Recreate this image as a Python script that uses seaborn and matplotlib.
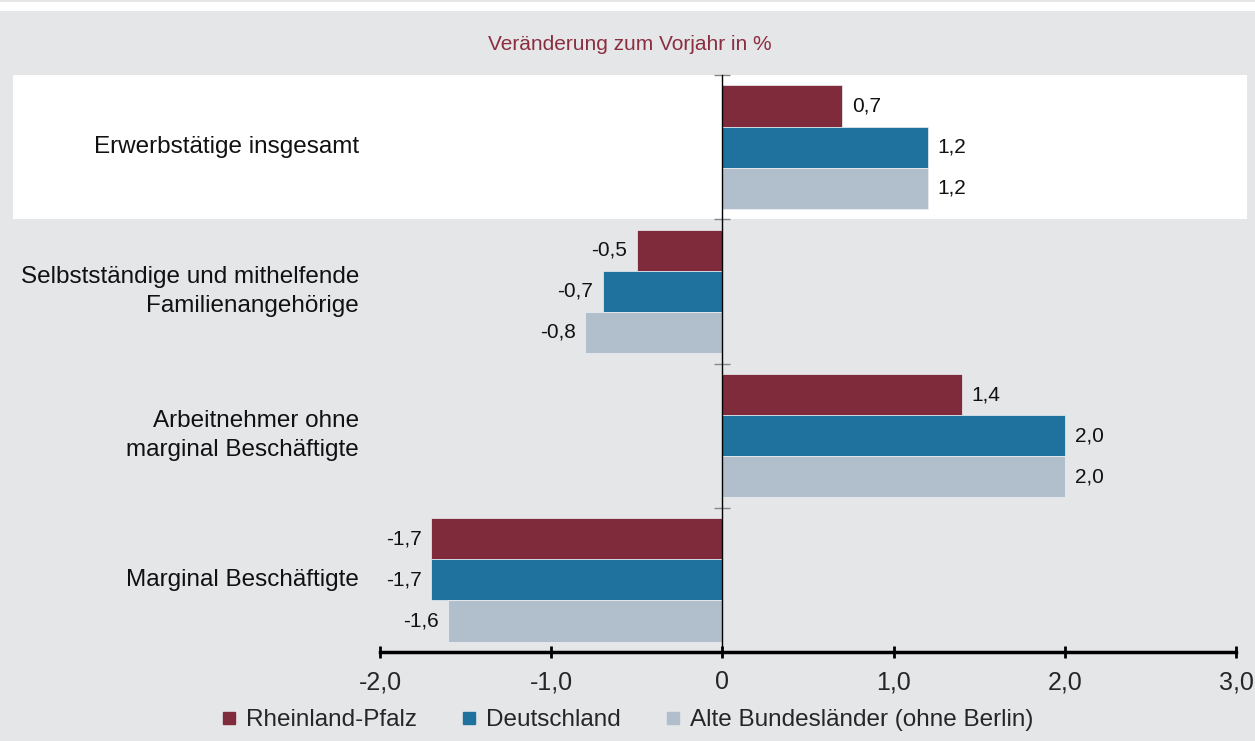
import pandas as pd
import matplotlib.pyplot as plt
import matplotlib.transforms as mtransforms
from matplotlib.lines import Line2D
from matplotlib.patches import Rectangle
import seaborn as sns

# Data
categories = [
    "Erwerbstätige insgesamt",
    "Selbstständige und mithelfende\nFamilienangehörige",
    "Arbeitnehmer ohne\nmarginal Beschäftigte",
    "Marginal Beschäftigte",
]
regions = ["Rheinland-Pfalz", "Deutschland", "Alte Bundesländer (ohne Berlin)"]
rlp = [0.7, -0.5, 1.4, -1.7]
de = [1.2, -0.7, 2.0, -1.7]
abl = [1.2, -0.8, 2.0, -1.6]
colors = ["#802b3b", "#1f729e", "#b1bfcc"]
xticks = [-2, -1, 0, 1, 2, 3]
xticklabels = ["-2,0", "-1,0", "0", "1,0", "2,0", "3,0"]

rows = []
for reg, vals in zip(regions, [rlp, de, abl]):
    for cat, v in zip(categories, vals):
        rows.append({"Kategorie": cat, "Region": reg, "Wert": v})
df = pd.DataFrame(rows)

sns.set_style("white")
plt.rcParams["font.family"] = ["Liberation Sans", "DejaVu Sans"]

bg = "#e5e6e8"
fig = plt.figure(figsize=(12.55, 7.41), dpi=100, facecolor=bg)
ax = fig.add_axes([380 / 1255, 1 - 652 / 741, 856 / 1255, 577 / 741])
ax.set_facecolor("none")

# white strip at top and highlighted first category band
fig.patches.append(Rectangle((0, 1 - 11 / 741), 1, 9 / 741, transform=fig.transFigure,
                             facecolor="white", edgecolor="none", zorder=-2))
fig.patches.append(Rectangle((13 / 1255, 1 - 219 / 741), 1234 / 1255, 144 / 741,
                             transform=fig.transFigure, facecolor="white",
                             edgecolor="none", zorder=-2))

sns.barplot(data=df, x="Wert", y="Kategorie", hue="Region", orient="h",
            palette=dict(zip(regions, colors)), saturation=1, width=0.855,
            legend=False, edgecolor="#eef0f2", linewidth=0.5, ax=ax)

for c in ax.containers:
    labels = [f"{v:.1f}".replace(".", ",") for v in c.datavalues]
    ax.bar_label(c, labels=labels, padding=7, fontsize=15, color="#111111")

ax.set_xlim(-2, 3)
ax.set_ylim(3.5, -0.5)
ax.set_xlabel("")
ax.set_ylabel("")
ax.set_xticks(xticks)
ax.set_xticklabels(xticklabels, fontsize=18)
ax.tick_params(axis="x", bottom=True, direction="inout", length=8, width=2,
               color="black", pad=9)

# category labels on the left
trans = mtransforms.blended_transform_factory(ax.transAxes, ax.transData)
for i, cat in enumerate(categories):
    ax.text(-21 / 856, i, cat, transform=trans, ha="right", va="center",
            fontsize=17.5, color="#111111", multialignment="right", linespacing=1.4)

# zero line with band separator ticks
ax.spines["left"].set_position(("data", 0))
ax.spines["left"].set_linewidth(1)
ax.spines["left"].set_color("black")
ax.set_yticks([-0.5, 0.5, 1.5, 2.5])
ax.set_yticklabels([])
ax.tick_params(axis="y", left=True, direction="inout", length=11, width=1,
               color="#888888")
ax.spines["bottom"].set_linewidth(2.5)
ax.spines["bottom"].set_color("black")
ax.spines["top"].set_visible(False)
ax.spines["right"].set_visible(False)

fig.text(630 / 1255, 1 - 44 / 741, "Veränderung zum Vorjahr in %", ha="center",
         va="center", fontsize=15, color="#8a2e40")

handles = [Line2D([], [], marker="s", linestyle="none", markersize=9,
                  markerfacecolor=col, markeredgecolor=col) for col in colors]
fig.legend(handles, regions, loc="center", bbox_to_anchor=(628 / 1255, 1 - 720 / 741),
           ncol=3, frameon=False, fontsize=17.5, handlelength=0.5,
           handletextpad=0.45, columnspacing=1.9, borderpad=0)

fig.savefig("out.png", dpi=100, facecolor=bg)
